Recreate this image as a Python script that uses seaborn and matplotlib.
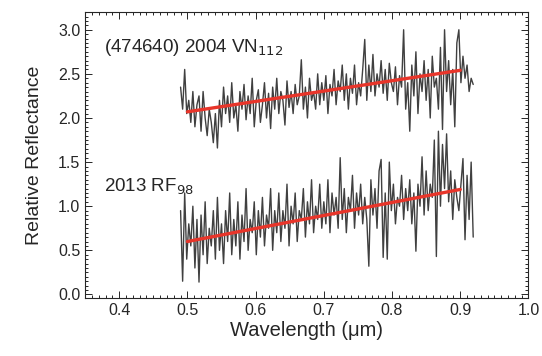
import numpy as np
import pandas as pd
import seaborn as sns
import matplotlib.pyplot as plt
from matplotlib.ticker import MultipleLocator

# wavelength grid of the spectra (um)
wavelength = np.round(0.490 + 0.003 * np.arange(144), 3)

# (474640) 2004 VN112 relative reflectance
vn112 = [2.35, 2.10, 2.55, 2.05, 2.20, 1.95, 2.30, 1.90, 2.15, 2.25,
         1.85, 2.30, 2.00, 1.80, 2.10, 1.95, 1.72, 2.05, 1.66, 2.20,
         1.90, 2.35, 2.05, 2.25, 1.95, 2.40, 2.00, 2.15, 1.85, 2.30,
         2.10, 2.38, 1.98, 2.25, 2.05, 2.45, 1.90, 2.20, 2.32, 1.95,
         2.15, 2.40, 2.00, 2.28, 1.88, 2.35, 2.10, 2.45, 2.05, 2.30,
         2.20, 1.92, 2.42, 2.12, 2.30, 2.05, 2.38, 2.15, 2.25, 2.66,
         2.10, 2.35, 2.00, 2.45, 2.20, 2.30, 2.10, 2.50, 2.15, 2.40,
         2.20, 2.48, 2.05, 2.38, 2.25, 2.55, 2.15, 2.42, 2.30, 2.60,
         2.20, 2.50, 2.10, 2.45, 2.28, 2.60, 2.15, 2.40, 2.25, 2.55,
         2.89, 2.20, 2.60, 2.30, 2.72, 2.25, 2.50, 2.35, 2.65, 2.28,
         2.55, 2.20, 2.62, 2.40, 2.30, 2.58, 2.15, 2.48, 2.35, 3.00,
         2.10, 2.40, 1.85, 2.60, 2.25, 2.75, 2.05, 2.50, 2.30, 2.65,
         2.20, 2.55, 2.00, 2.70, 2.35, 2.45, 2.10, 2.80, 1.87, 3.00,
         2.30, 2.65, 2.15, 2.55, 1.90, 2.85, 3.00, 2.40, 2.70, 2.45,
         2.60, 2.30, 2.45, 2.38]

# 2013 RF98 relative reflectance
rf98 = [0.95, 0.15, 1.15, 0.40, 0.80, 0.55, 1.00, 0.30, 0.85, 0.14,
        0.90, 0.45, 1.05, 0.35, 0.75, 0.55, 0.95, 0.40, 1.10, 0.50,
        0.80, 0.35, 0.95, 0.60, 1.15, 0.45, 0.85, 0.55, 1.05, 0.40,
        0.90, 0.60, 1.20, 0.50, 0.85, 0.70, 1.05, 0.45, 0.95, 0.65,
        1.10, 0.55, 0.90, 0.75, 1.20, 0.50, 0.95, 0.70, 1.15, 0.60,
        0.95, 0.75, 1.25, 0.55, 1.00, 0.80, 1.15, 0.60, 0.95, 0.85,
        1.20, 0.65, 1.05, 0.80, 1.30, 0.70, 1.00, 0.85, 1.25, 0.75,
        1.05, 0.80, 1.30, 0.70, 1.15, 0.90, 1.10, 0.75, 1.55, 0.85,
        1.20, 0.70, 1.10, 0.95, 1.35, 0.75, 1.15, 0.90, 1.25, 0.80,
        1.10, 0.85, 0.32, 1.30, 0.90, 1.20, 0.75, 1.40, 1.53, 0.42,
        1.15, 0.40, 1.50, 0.95, 1.25, 0.80, 1.10, 1.00, 1.35, 0.85,
        1.20, 0.95, 1.30, 0.80, 1.15, 0.49, 1.25, 1.00, 1.56, 0.90,
        1.40, 0.95, 1.25, 1.10, 1.75, 0.43, 1.85, 1.00, 1.70, 1.20,
        1.82, 1.05, 1.40, 0.85, 1.30, 1.10, 0.95, 1.25, 1.54, 0.62,
        1.35, 0.85, 1.50, 0.65]

# linear fits (end points)
fit_wl = [0.50, 0.90]
vn112_fit = [2.07, 2.54]
rf98_fit = [0.60, 1.19]

names = ["(474640) 2004 VN$_{112}$", "2013 RF$_{98}$"]
label_pos = [(0.378, 2.80), (0.378, 1.22)]

sns.set_style("ticks")
plt.rcParams['font.family'] = ['Liberation Sans', 'DejaVu Sans']

spec = pd.DataFrame({
    "wl": np.concatenate([wavelength, wavelength]),
    "refl": vn112 + rf98,
    "obj": ["vn"] * len(vn112) + ["rf"] * len(rf98),
})
fits = pd.DataFrame({
    "wl": fit_wl + fit_wl,
    "refl": vn112_fit + rf98_fit,
    "obj": ["vn", "vn", "rf", "rf"],
})

fig = plt.figure(figsize=(5.42, 3.56), dpi=100)
ax = fig.add_axes([0.157, 0.163, 0.818, 0.803])

sns.lineplot(data=spec, x="wl", y="refl", units="obj", estimator=None,
             sort=False, color="#404040", lw=1.0, ax=ax)
sns.lineplot(data=fits, x="wl", y="refl", units="obj", estimator=None,
             sort=False, color="#e8352a", lw=2.4, ax=ax)

for name, (tx, ty) in zip(names, label_pos):
    ax.text(tx, ty, name, fontsize=13.5, va="center", ha="left")

ax.set_xlim(0.35, 1.0)
ax.set_ylim(-0.04, 3.2)
ax.xaxis.set_major_locator(MultipleLocator(0.1))
ax.xaxis.set_minor_locator(MultipleLocator(0.01))
ax.yaxis.set_major_locator(MultipleLocator(0.5))
ax.yaxis.set_minor_locator(MultipleLocator(0.05))
ax.tick_params(which="both", direction="in", top=True, right=True,
               labelsize=11.5, width=0.7)
ax.tick_params(which="major", length=5)
ax.tick_params(which="minor", length=2.5)
for s in ax.spines.values():
    s.set_linewidth(0.8)
ax.set_xlabel("Wavelength (\u03bcm)", fontsize=14.5, labelpad=2)
ax.set_ylabel("Relative Reflectance", fontsize=14, labelpad=11)

fig.savefig("out.png", dpi=100)
